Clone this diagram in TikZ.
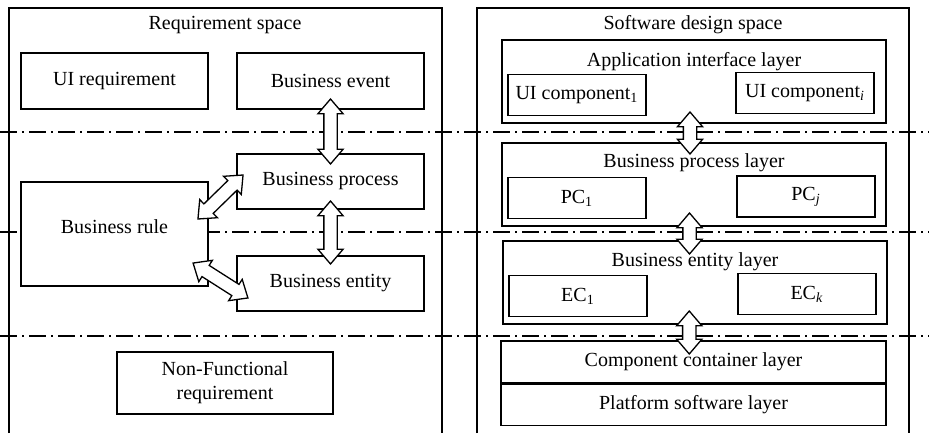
\documentclass[tikz,border=0pt]{standalone}
\usepackage{fontspec}
\setmainfont{Liberation Serif}
\usetikzlibrary{shapes.arrows,calc,positioning}
\tikzset{
    box/.style={draw, fill=white, line width=0.65pt, inner sep=0pt, align=center},
    comp/.style={box, minimum width=69pt, minimum height=20.5pt},
    layer/.style={box, minimum width=192pt, minimum height=41.5pt},
    sepline/.style={line width=0.6pt, dash pattern=on 8.5pt off 2.5pt on 1pt off 2.5pt},
    dblarr/.style={draw, fill=white, line width=0.65pt, double arrow, inner sep=0pt,
        text height=6pt, text depth=0pt, minimum width=12pt,
        double arrow head extend=3pt, double arrow tip angle=81}
}

\begin{document}
\begin{tikzpicture}[x=0.5pt, y=-0.5pt, font=\fontsize{10}{12}\selectfont]
    \useasboundingbox (0,0) rectangle (929,433);

    % Separation lines
    \foreach \y in {132,232,336} {
        \draw[sepline] (0,\y) -- (929,\y);
    }

    % Outer frames
    \draw[line width=0.65pt] (9,433) -- (9,8) -- (442,8) -- (442,433);
    \draw[line width=0.65pt] (477,433) -- (477,8) -- (909,8) -- (909,433);
    \node (reqtitle) at (225,25) {Requirement space};
    \node (swtitle) at (693,25) {Software design space};

    % Requirement space
    \node[box, minimum width=93.5pt, minimum height=28pt] (uireq) at (114.5,81) {UI requirement};
    \node[box, minimum width=93.5pt, minimum height=28pt] (event) at (330.5,81) {Business event};
    \node[box, minimum width=93.5pt, minimum height=27.5pt] (process) at (330.5,181.5) {Business process};
    \node[box, minimum width=93.5pt, minimum height=52pt] (rule) at (114.5,234) {};
    \node (rulelabel) at (114.5,227) {Business rule};
    \node[box, minimum width=93.5pt, minimum height=27.5pt] (entity) at (330.5,283.5) {Business entity};
    \node[box, minimum width=108pt, minimum height=31pt] (nonfunc) at (225,383) {Non-Functional\\requirement};

    % Software design space
    \node[layer] (appl) at (694,81.5) {};
    \node (appltitle) at (694,62) {Application interface layer};
    \node[comp] (ui1) at (577,95) {UI component\textsubscript{1}};
    \node[comp] (uii) at (805,93) {UI component\textsubscript{\textit{i}}};

    \node[layer] (proclayer) at (694,184.5) {};
    \node (proctitle) at (694,163) {Business process layer};
    \node[comp] (pc1) at (577,198) {PC\textsubscript{1}};
    \node[comp] (pcj) at (806,196.5) {PC\textsubscript{\textit{j}}};

    \node[layer] (entlayer) at (695,282.5) {};
    \node (enttitle) at (695,262) {Business entity layer};
    \node[comp] (ec1) at (578,296) {EC\textsubscript{1}};
    \node[comp] (eck) at (807,294) {EC\textsubscript{\textit{k}}};

    \node[box, minimum width=192.5pt, minimum height=21pt] (container) at (693.5,362) {Component container layer};
    \node[box, minimum width=192.5pt, minimum height=20.5pt, below=0pt of container] (platform) {Platform software layer};

    % Double arrows
    \node[dblarr, rotate=90, minimum height=32.5pt] (a1) at ($(event.south)!0.5!(process.north)$) {};
    \node[dblarr, rotate=90, minimum height=31.5pt] (a2) at ($(process.south)!0.5!(entity.north)$) {};
    \node[dblarr, rotate=44.3, minimum height=31.5pt] (a3) at (220.5,197) {};
    \node[dblarr, rotate=-32.5, minimum height=32.5pt] (a4) at (220.5,280.5) {};
    \node[dblarr, rotate=90, minimum height=21pt] (a5) at ($(appl.south)!0.5!(proclayer.north)+(-4,0)$) {};
    \node[dblarr, rotate=90, minimum height=20.5pt] (a6) at ($(proclayer.south)!0.5!(entlayer.north)+(-5,0)$) {};
    \node[dblarr, rotate=90, minimum height=21.5pt] (a7) at ($(entlayer.south)!0.5!(container.north)+(-5,0)$) {};
\end{tikzpicture}
\end{document}
